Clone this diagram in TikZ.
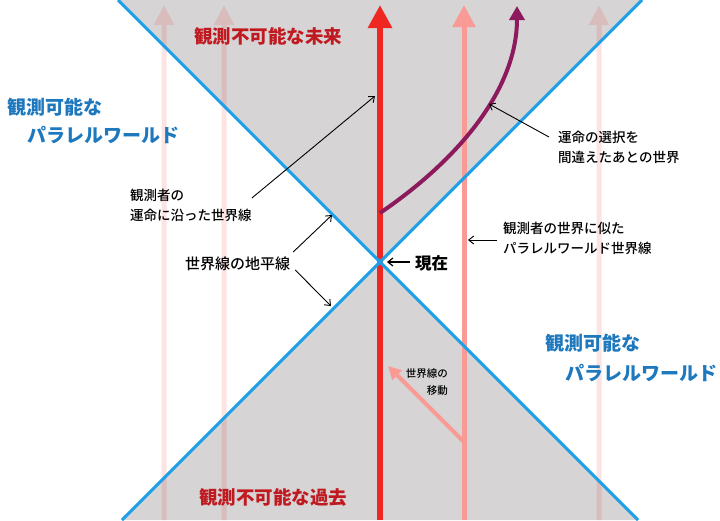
\documentclass[tikz,border=0pt]{standalone}
\usepackage{fontspec}
\setmainfont{Noto Sans CJK JP}
\newfontfamily\jpmedium{Noto Sans CJK JP Medium}
\usetikzlibrary{arrows.meta}

\definecolor{skyline}{HTML}{1EA0E8}
\definecolor{conegray}{HTML}{D6D4D5}
\definecolor{mainred}{HTML}{EE2722}
\definecolor{simpink}{HTML}{FA9A95}
\definecolor{wrongplum}{HTML}{8C1A5C}
\definecolor{darkred}{HTML}{C0191F}
\definecolor{obsblue}{HTML}{1E78BE}

\begin{document}
\begin{tikzpicture}[x=1pt, y=-1pt,
    horizon/.style={draw=skyline, line width=3pt},
    mainline/.style={mainred, line width=6pt, -{Triangle[length=23pt,width=23pt]}},
    simline/.style={simpink, line width=5pt, -{Triangle[length=22pt,width=22pt]}},
    faintline/.style={mainred, line width=5pt, -{Triangle[length=20pt,width=19pt]}},
    plumline/.style={wrongplum, line width=4pt, -{Triangle[length=14pt,width=15pt]}},
    moveline/.style={simpink, line width=4pt, -{Triangle[length=13pt,width=13pt]}},
    pointer/.style={black, line width=0.9pt, -{Straight Barb[length=5pt,width=8pt]}},
    bigred/.style={darkred, inner sep=0pt, font=\fontsize{18.5}{24}\selectfont\bfseries},
    bigblue/.style={obsblue, inner sep=0pt, font=\fontsize{19}{24}\selectfont\bfseries},
    note/.style={inner sep=0pt, align=left, font=\fontsize{13.5}{20}\selectfont\jpmedium},
    movenote/.style={inner sep=0pt, align=right, font=\fontsize{10.5}{17}\selectfont\jpmedium},
    hznote/.style={inner sep=0pt, font=\fontsize{15}{18}\selectfont\jpmedium},
    nownote/.style={inner sep=0pt, font=\fontsize{16.5}{20}\selectfont\bfseries}]
\useasboundingbox (0,0) rectangle (720,520);

% Cones
\coordinate (O) at (380,262);
\fill[conegray] (118,0) -- (642,0) -- (O) -- cycle;
\fill[conegray] (122,520) -- (638,520) -- (O) -- cycle;

% Faint parallel worlds
\foreach \x in {164,224,599}{
    \begin{scope}[transparency group, opacity=0.13]
        \draw[faintline] (\x,520) -- (\x,5);
    \end{scope}
}

% World lines
\draw[simline] (464,520) -- (464,5);
\draw[mainline] (380,520) -- (380,5);
\coordinate (branch) at (380,213);
\draw[plumline] (branch) .. controls (465,155) and (517,85) .. (517,6);

% Horizon lines
\draw[horizon] (118,0) -- (638,520);
\draw[horizon] (642,0) -- (122,520);

% Labels
\node[bigred] (future) at (268,36) {観測不可能な未来};
\node[bigred] (past) at (273,497) {観測不可能な過去};
\node[bigblue, anchor=west] (leftobs) at (7,107) {観測可能な};
\node[bigblue, anchor=west] (leftpw) at (27,135) {パラレルワールド};
\node[bigblue, anchor=west] (rightobs) at (545,343) {観測可能な};
\node[bigblue, anchor=west] (rightpw) at (565,373) {パラレルワールド};
\node[note, anchor=west] (fate) at (130,205) {観測者の\\運命に沿った世界線};
\node[note, anchor=west] (wrong) at (558,147) {運命の選択を\\間違えたあとの世界};
\node[note, anchor=west] (similar) at (503,238.5) {観測者の世界に似た\\パラレルワールド世界線};
\node[nownote, anchor=west] (now) at (415,263) {現在};
\node[hznote] (hz) at (237.5,264) {世界線の地平線};
\node[movenote, anchor=east] (move) at (448,382.5) {世界線の\\移動};

% Pointers
\coordinate (fatetip) at (375,96);
\coordinate (wrongtip) at (489,104);
\coordinate (simtip) at (468,240);
\coordinate (nowtip) at (387,262);
\coordinate (hzup) at (332,215);
\coordinate (hzdown) at (331,306);
\draw[pointer] ([yshift=7pt]fate.east) -- (fatetip);
\draw[pointer] ([xshift=-9pt,yshift=10pt]wrong.west) -- (wrongtip);
\draw[pointer] ([xshift=-6pt,yshift=-1.5pt]similar.west) -- (simtip);
\draw[pointer, line width=1.2pt] ([xshift=-5pt,yshift=1pt]now.west) -- (nowtip);
\draw[pointer] ([xshift=3pt,yshift=12pt]hz.east) -- (hzup);
\draw[pointer] ([xshift=5pt,yshift=-6pt]hz.east) -- (hzdown);

% Shift of world line
\coordinate (movefrom) at (463,441);
\coordinate (moveto) at (388,366);
\draw[moveline] (movefrom) -- (moveto);
\end{tikzpicture}
\end{document}
